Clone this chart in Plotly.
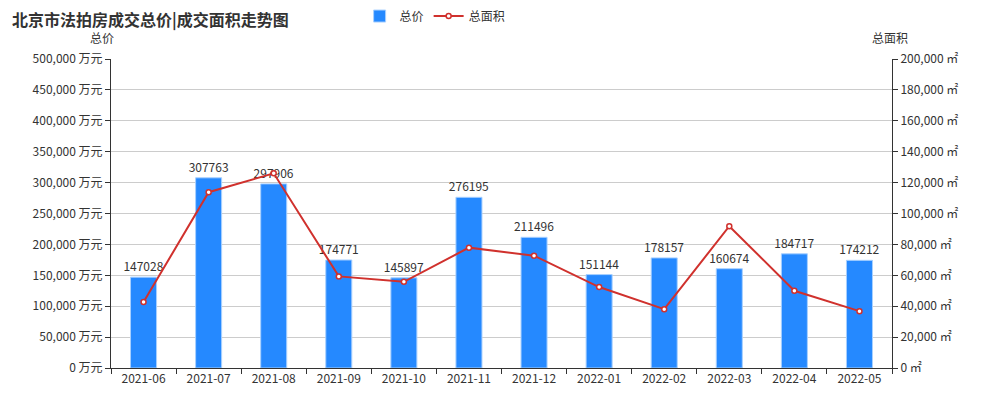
import plotly.graph_objects as go

months = ["2021-06", "2021-07", "2021-08", "2021-09", "2021-10", "2021-11",
          "2021-12", "2022-01", "2022-02", "2022-03", "2022-04", "2022-05"]
total_price = [147028, 307763, 297906, 174771, 145897, 276195,
               211496, 151144, 178157, 160674, 184717, 174212]
total_area = [42700, 113800, 126000, 59300, 55800, 77900,
              72700, 52400, 38100, 91800, 50000, 36800]

font_family = "Noto Sans CJK SC, Noto Sans, sans-serif"

fig = go.Figure()
fig.add_trace(go.Bar(
    x=months, y=total_price, name="总价",
    marker=dict(color="#2589ff", line=dict(color="#a8d0ff", width=1)),
    width=0.4,
    text=[str(v) for v in total_price], textposition="outside",
    constraintext="none",
    textfont=dict(size=12, color="#333"), cliponaxis=False,
    yaxis="y",
))
fig.add_trace(go.Scatter(
    x=months, y=total_area, name="总面积", mode="lines+markers",
    line=dict(color="#d0312d", width=2),
    marker=dict(symbol="circle", size=5, color="white",
                line=dict(color="#d0312d", width=1.5)),
    yaxis="y2",
))

# page has an 8px body margin; figure sized to fit the 1000x400 window
fig.update_layout(
    width=992, height=392,
    margin=dict(l=103, r=108, t=51, b=32, autoexpand=False),
    paper_bgcolor="white", plot_bgcolor="white",
    font=dict(family=font_family, size=12, color="#333"),
    separators=".,",
    showlegend=True,
    legend=dict(orientation="h", x=0.415, xanchor="center", y=1.139, yref="paper",
                yanchor="middle", font=dict(size=12, color="#333"),
                itemwidth=30, bgcolor="rgba(0,0,0,0)"),
    xaxis=dict(type="category", range=[-0.5, len(months) - 0.5],
               showline=True, linecolor="#333", linewidth=1,
               ticks="outside", tickson="boundaries", ticklen=5, tickcolor="#333",
               showgrid=False, automargin=False, tickfont=dict(size=12, color="#333")),
    yaxis=dict(range=[0, 500000], dtick=50000, tickformat=",d", ticksuffix=" 万元",
               showline=True, linecolor="#333", linewidth=1, ticks="outside",
               ticklen=5, tickcolor="#333", showgrid=True, gridcolor="#cccccc",
               zeroline=False, automargin=False, tickfont=dict(size=12, color="#333")),
    yaxis2=dict(range=[0, 200000], dtick=20000, tickformat=",d", ticksuffix=" ㎡",
                overlaying="y", side="right", showline=True, linecolor="#333",
                linewidth=1, ticks="outside", ticklen=5, tickcolor="#333",
                showgrid=False, zeroline=False, automargin=False,
                tickfont=dict(size=12, color="#333")),
    annotations=[
        dict(text="<b>北京市法拍房成交总价|成交面积走势图</b>", xref="paper", yref="paper",
             x=0, xanchor="left", y=1, yanchor="middle", xshift=-101, yshift=40,
             showarrow=False, font=dict(size=16, color="#333", family=font_family)),
        dict(text="总价", xref="paper", yref="paper", x=0, y=1, xanchor="center",
             yanchor="middle", xshift=-9, yshift=22, showarrow=False,
             font=dict(size=12, color="#333")),
        dict(text="总面积", xref="paper", yref="paper", x=1, y=1, xanchor="center",
             yanchor="middle", xshift=-2, yshift=22, showarrow=False,
             font=dict(size=12, color="#333")),
    ],
)

fig.write_html("out.html")
